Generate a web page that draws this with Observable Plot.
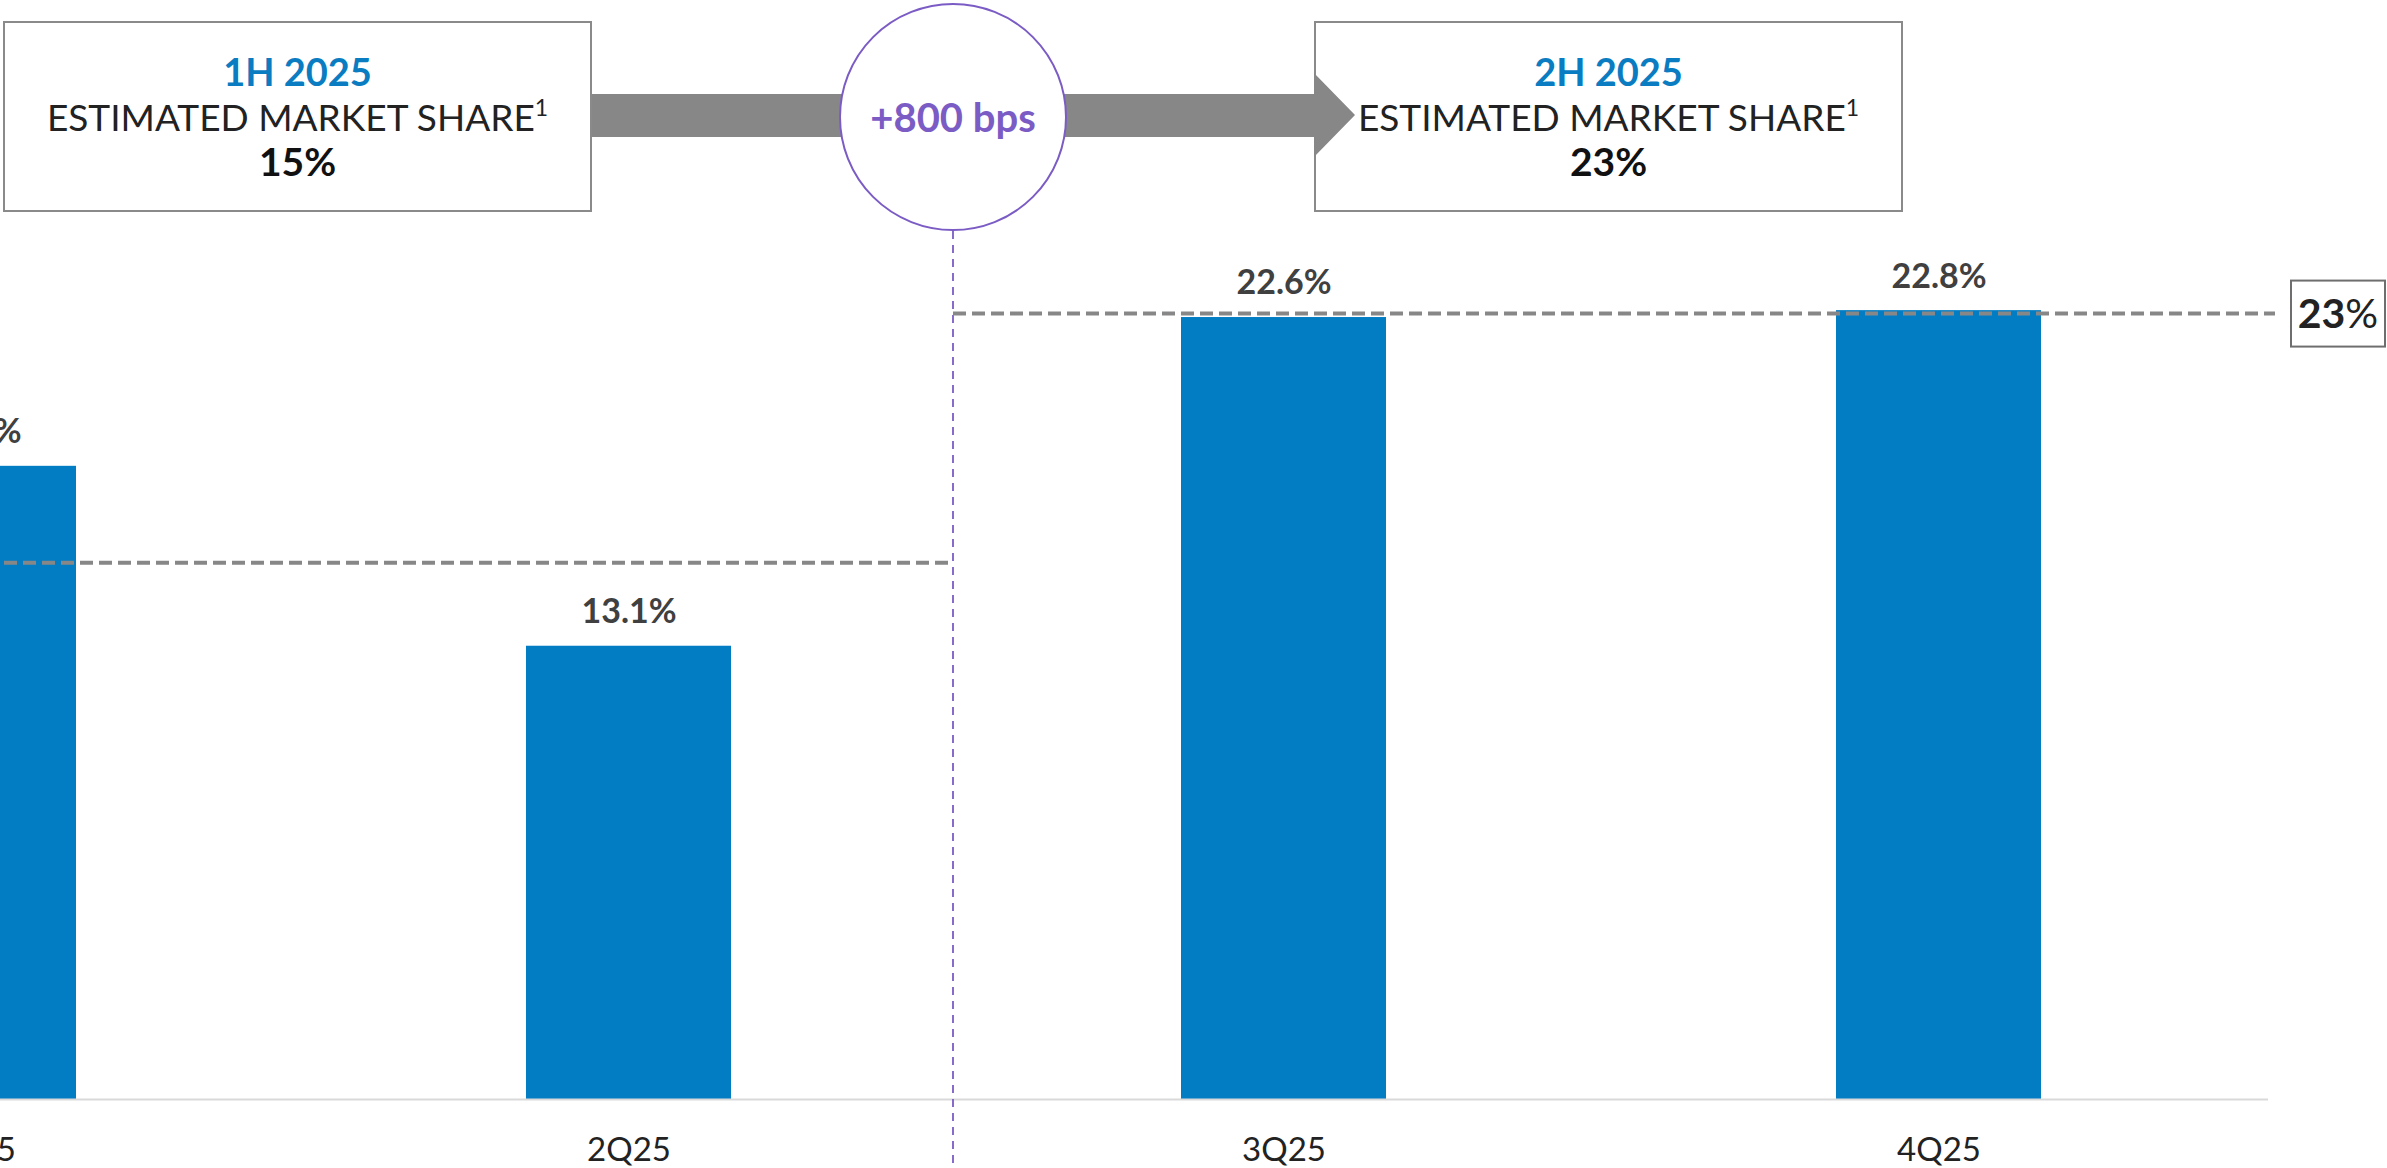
<!DOCTYPE html>
<html>
<head>
<meta charset="utf-8">
<script src="https://cdn.jsdelivr.net/npm/d3@7"></script>
<script src="https://cdn.jsdelivr.net/npm/@observablehq/plot@0.6"></script>
<style>
  html, body { margin: 0; padding: 0; background: #fff; overflow: hidden; }
  #page { position: relative; width: 2387px; height: 1168px; overflow: hidden; font-family: "Lato", "Open Sans", sans-serif; }
  #chart svg { position: absolute; left: -400px; top: 0; }
  .box { position: absolute; top: 21px; width: 585px; height: 187px; border: 2px solid #8a8a8a; background: #fff;
         text-align: center; box-sizing: content-box; }
  .box .l { height: 45px; line-height: 45px; }
  .box .t1 { color: #0a7cc1; font-weight: 700; font-size: 38px; margin-top: 26px; }
  .box .t2 { color: #222; font-size: 37px; }
  .box .t2 sup { font-size: 23px; vertical-align: 15px; line-height: 0; }
  .box .t3 { color: #111; font-weight: 700; font-size: 39px; }
  #arrow { position: absolute; left: 592px; top: 73px; width: 763px; height: 84px; background: #878787;
           clip-path: polygon(0px 21px, 722px 21px, 722px 0px, 763px 42px, 722px 84px, 722px 64px, 0px 64px); }
  #circle { position: absolute; top: 3px; width: 224px; height: 224px; border: 2px solid #7b5cc5; border-radius: 50%;
            background: #fff; display: flex; align-items: center; justify-content: center;
            color: #7b5cc5; font-weight: 700; font-size: 40px; }
</style>
</head>
<body>
<div id="page">
  <div id="chart"></div>
  <div class="box" id="box0" style="left:3px"></div>
  <div class="box" id="box1" style="left:1314px"></div>
  <div id="arrow"></div>
  <div id="circle"></div>
</div>
<script>
// ---- data ----
const quarters = ["1Q25", "2Q25", "3Q25", "4Q25"];
const shares = [18.3, 13.1, 22.6, 22.8];
const halves = ["1H 2025", "2H 2025"];
const halfQuarters = [["1Q25", "2Q25"], ["3Q25", "4Q25"]];
const halfAverage = [15.5, 22.7];
const halfShareLabel = ["15%", "23%"];
const boxSubtitle = "ESTIMATED MARKET SHARE";
const footnote = "1";
const changeLabel = "+800 bps";
const endLabelBold = "23";
const endLabelUnit = "%";

const data = quarters.map((q, i) => ({q, v: shares[i]}));

const SVG_LEFT = -400;
const plot = Plot.plot({
  width: 2800,
  height: 1168,
  marginLeft: 43,
  marginRight: 132,
  marginTop: 234,
  marginBottom: 69,
  x: {domain: quarters, paddingInner: 0.6875, paddingOuter: 0.346, align: 0.5, label: null, tickSize: 0, tickPadding: 38},
  y: {domain: [0, 25], axis: null},
  style: {fontFamily: "Lato, 'Open Sans', sans-serif", fontSize: "33px", color: "#222", background: "transparent", maxWidth: "none", overflow: "visible"},
  marks: [
    Plot.barY(data, {x: "q", y: "v", fill: "#027cc2"}),
    Plot.ruleY([0], {stroke: "#d9d9d9", strokeWidth: 2}),
    Plot.text(data, {x: "q", y: "v", text: d => d.v.toFixed(1) + "%", dy: -34, fontWeight: "bold", fontSize: 34, fill: "#404040"})
  ]
});
document.getElementById("chart").appendChild(plot);

// ---- overlays drawn with the plot's own scales ----
const sx = plot.scale("x");
const sy = plot.scale("y");
const bw = sx.bandwidth;
const xr = sx.range;
const divider = (sx.apply("2Q25") + bw + sx.apply("3Q25")) / 2 - 3;
const svg = d3.select(plot);
const g = svg.append("g");

// vertical purple divider (starts at circle bottom)
const circleR = 114, circleCy = 117;
g.append("line")
  .attr("x1", divider).attr("x2", divider)
  .attr("y1", circleCy + circleR).attr("y2", 1168)
  .attr("stroke", "#7b5cc5").attr("stroke-width", 1.8).attr("stroke-dasharray", "8,6");

// half-year average dashed lines
halves.forEach((h, i) => {
  const x1 = i === 0 ? Math.min(...xr) : divider;
  const x2 = i === 0 ? divider : Math.max(...xr) + 7;
  g.append("line")
    .attr("x1", x1).attr("x2", x2)
    .attr("y1", sy.apply(halfAverage[i])).attr("y2", sy.apply(halfAverage[i]))
    .attr("stroke", "#878787").attr("stroke-width", 4).attr("stroke-dasharray", "13,6");
});

// end label box "23%"
const endX = Math.max(...xr) + 23;
const endY = sy.apply(halfAverage[1]);
g.append("rect").attr("x", endX).attr("y", endY - 33).attr("width", 94).attr("height", 66)
  .attr("fill", "#fff").attr("stroke", "#6e6e6e").attr("stroke-width", 2);
const t = g.append("text").attr("x", endX + 47).attr("y", endY).attr("dy", "0.36em")
  .attr("text-anchor", "middle").attr("font-size", 41).attr("fill", "#222");
t.append("tspan").attr("font-weight", "bold").text(endLabelBold);
t.append("tspan").text(endLabelUnit);

// ---- top boxes ----
halves.forEach((h, i) => {
  const box = document.getElementById("box" + i);
  box.innerHTML = `<div class="l t1">${h}</div><div class="l t2">${boxSubtitle}<sup>${footnote}</sup></div><div class="l t3">${halfShareLabel[i]}</div>`;
});
const circle = document.getElementById("circle");
circle.textContent = changeLabel;
circle.style.left = (divider + SVG_LEFT - circleR) + "px";
</script>
</body>
</html>
